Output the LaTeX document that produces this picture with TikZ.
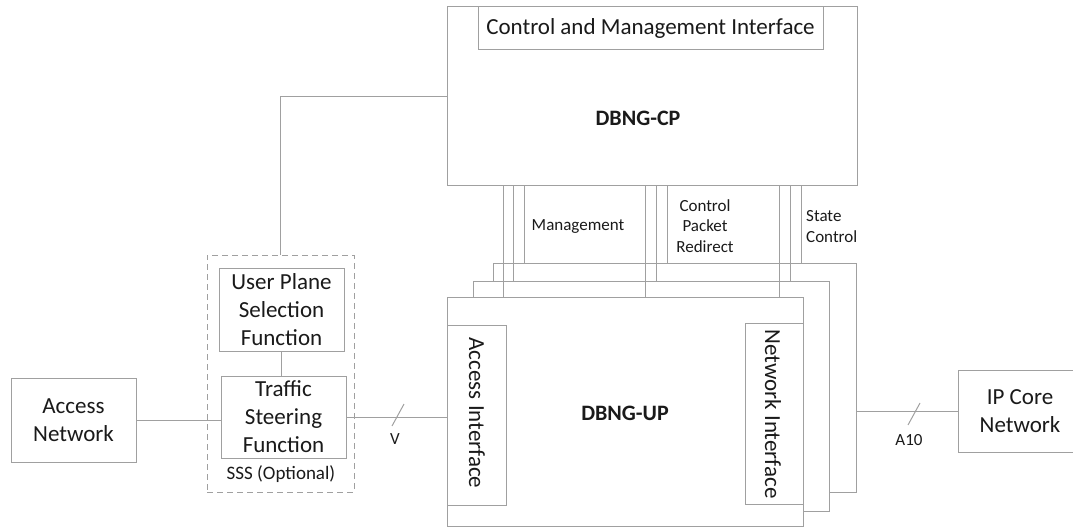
\documentclass[tikz,border=0pt]{standalone}
\usepackage{fontspec}
\setmainfont{Carlito}
\definecolor{lc}{HTML}{A0A0A0}
\definecolor{tc}{HTML}{1A1A1A}
\begin{document}
\begin{tikzpicture}[x=1pt,y=-1pt,
  box/.style={draw=lc, line width=1pt, fill=white, inner sep=0pt, align=center, text=tc,
    font=\fontsize{23}{28}\selectfont},
  dbox/.style={draw=lc, line width=1pt, dash pattern=on 6pt off 4pt, inner sep=0pt},
  lbl/.style={text=tc, align=center, inner sep=0pt, font=\fontsize{17}{20.5}\selectfont},
  btxt/.style={text=tc, inner sep=0pt, font=\fontsize{22}{26}\selectfont\bfseries},
  conn/.style={draw=lc, line width=1pt}]
\clip (0,0) rectangle (1073,527);
\useasboundingbox (0,0) rectangle (1073,527);
% control plane
\node[box, minimum width=410pt, minimum height=178pt] (cp) at (652,96) {};
\node[box, minimum width=345pt, minimum height=43pt] (cmi) at (650.5,28.5) {Control and Management Interface};
\node[btxt] (cpt) at (638,118) {DBNG-CP};
% user plane stack
\node[box, minimum width=363pt, minimum height=229pt] (up3) at (674.5,377.5) {};
\node[box, minimum width=356pt, minimum height=230pt] (up2) at (651,396) {};
\node[box, minimum width=356pt, minimum height=229pt] (up1) at (625,411.5) {};
\node[box, minimum width=59pt, minimum height=180pt] (ai) at (476.5,415) {};
\node[text=tc, inner sep=0pt, rotate=-90, font=\fontsize{23}{28}\selectfont] (ait) at (477,413) {Access Interface};
\node[box, minimum width=58pt, minimum height=181pt] (ni) at (774,413.5) {};
\node[text=tc, inner sep=0pt, rotate=-90, font=\fontsize{23}{28}\selectfont] (nit) at (773,414) {Network Interface};
\node[btxt] (upt) at (625,413) {DBNG-UP};
% SSS
\node[dbox, minimum width=147pt, minimum height=237pt] (sss) at (280.5,373.5) {};
\node[box, minimum width=125pt, minimum height=83pt] (upsf) at (281.5,309.5) {User Plane\\Selection\\Function};
\node[box, minimum width=125pt, minimum height=82pt] (tsf) at (283.5,417) {Traffic\\Steering\\Function};
\node[lbl, font=\fontsize{19}{23}\selectfont] (ssst) at (281,474) {SSS (Optional)};
% end boxes
\node[box, minimum width=125pt, minimum height=84pt] (an) at (73.5,420) {Access\\Network};
\node[box, minimum width=124pt, minimum height=82pt] (ipc) at (1020,411) {IP Core\\Network};
% connectors
\draw[conn] (cp.west) -| (sss.north);
\draw[conn] (upsf.south) -- (upsf.south |- tsf.north);
\draw[conn] (an.east) -- (an.east -| tsf.west);
\draw[conn] (tsf.east) -- (tsf.east -| ai.west);
\draw[conn] (ipc.west) -- (ipc.west -| up3.east);
% reference point slashes
\coordinate (v1) at (392,426); \coordinate (v2) at (404,404);
\draw[conn] (v1) -- (v2);
\coordinate (a1) at (908,425); \coordinate (a2) at (920,403);
\draw[conn] (a1) -- (a2);
\node[lbl] (vt) at (395,439) {V};
\node[lbl] (a10t) at (909,440) {A10};
% vertical interface lines
\foreach \xa/\xb/\xc/\n in {503/513/524/m, 645/656/667/c, 779/790/801/s}{
  \coordinate (\n1) at (\xa,0);
  \coordinate (\n2) at (\xb,0);
  \coordinate (\n3) at (\xc,0);
  \draw[conn] (\n1 |- cp.south) -- (\n1 |- up1.north);
  \draw[conn] (\n2 |- cp.south) -- (\n2 |- up2.north);
  \draw[conn] (\n3 |- cp.south) -- (\n3 |- up3.north);
}
\node[lbl] (mgt) at (578,227) {Management};
\node[lbl] (cprt) at (705,226) {Control\\Packet\\Redirect};
\node[lbl, align=left, anchor=west] (sct) at (806,226.5) {State\\Control};
\end{tikzpicture}
\end{document}
